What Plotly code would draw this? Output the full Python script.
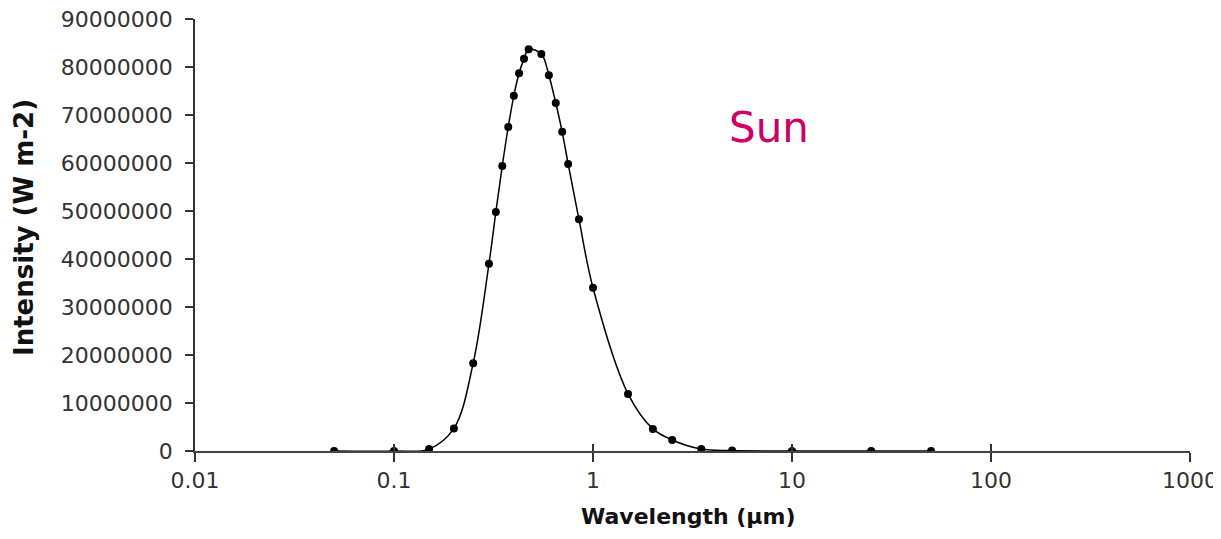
import plotly.graph_objects as go

# Wavelength (µm) and intensity (W m-2)
wavelength = [0.05, 0.1, 0.15, 0.2, 0.25, 0.3, 0.325, 0.35, 0.375, 0.4, 0.425,
              0.45, 0.475, 0.55, 0.6, 0.65, 0.7, 0.75, 0.85, 1.0, 1.5, 2.0,
              2.5, 3.5, 5.0, 10.0, 25.0, 50.0]
intensity = [0, 0, 400000, 4700000, 18300000, 39000000, 49800000, 59400000,
             67500000, 74000000, 78700000, 81700000, 83700000, 82700000,
             78300000, 72500000, 66500000, 59800000, 48300000, 34000000,
             11900000, 4600000, 2300000, 400000, 100000, 0, 0, 0]

x_tick_vals = [0.01, 0.1, 1, 10, 100, 1000]
x_tick_text = ["0.01", "0.1", "1", "10", "100", "1000"]
y_tick_vals = [0, 10000000, 20000000, 30000000, 40000000, 50000000,
               60000000, 70000000, 80000000, 90000000]
y_tick_text = [str(v) for v in y_tick_vals]

# page has an 8px body margin; plot area in page pixels: x 195..1190, y 19..451
OFF = 8
PL, PR, PT, PB = 195, 1190, 19, 451
W, H = 1221 - OFF, 539 - 2 * OFF


def px_to_paper(px, py):
    return (px - PL) / (PR - PL), (PB - py) / (PB - PT)


fig = go.Figure()
fig.add_trace(go.Scatter(
    x=wavelength, y=intensity, mode="lines+markers",
    line=dict(color="black", width=1.5, shape="spline", smoothing=1.0),
    marker=dict(color="black", size=8),
    showlegend=False,
))
fig.add_trace(go.Scatter(x=[0.01], y=[0], xaxis="x2", mode="markers",
                         marker=dict(opacity=0), showlegend=False,
                         hoverinfo="skip"))

tick_font = dict(family="DejaVu Sans", size=22, color="#333333")

sx, sy = px_to_paper(769, 127)
wx, wy = px_to_paper(688, 517)
ix, iy = px_to_paper(24, 228)

fig.update_layout(
    width=W, height=H,
    margin=dict(l=PL - OFF, r=W + OFF - PR, t=PT - OFF, b=H + OFF - PB),
    paper_bgcolor="white", plot_bgcolor="white",
    xaxis=dict(
        type="log", range=[-2, 3], automargin=False,
        tickvals=x_tick_vals, ticktext=x_tick_text,
        showgrid=False, zeroline=False,
        showline=True, linecolor="#444444", linewidth=2,
        ticks="outside", ticklen=9, tickcolor="#333333", tickwidth=1.5,
        tickfont=tick_font, ticklabeloverflow="allow",
    ),
    xaxis2=dict(
        type="log", range=[-2, 3], overlaying="x", anchor="y", side="bottom",
        tickvals=x_tick_vals, showticklabels=False,
        showgrid=False, zeroline=False, showline=False,
        ticks="inside", ticklen=7, tickcolor="#333333", tickwidth=1.5,
        automargin=False,
    ),
    yaxis=dict(
        range=[0, 90000000], automargin=False,
        tickvals=y_tick_vals, ticktext=y_tick_text,
        showgrid=False, zeroline=False,
        showline=True, linecolor="#333333", linewidth=1.5,
        ticks="outside", ticklen=8, tickcolor="#333333", tickwidth=1.5,
        tickfont=tick_font, ticklabelstandoff=8, ticklabeloverflow="allow",
    ),
    annotations=[
        dict(text="Sun", x=sx, y=sy, xref="paper", yref="paper",
             xanchor="center", yanchor="middle", showarrow=False,
             font=dict(family="DejaVu Sans", size=42, color="#CC0066")),
        dict(text="<b>Wavelength (μm)</b>", x=wx, y=wy,
             xref="paper", yref="paper", showarrow=False,
             xanchor="center", yanchor="middle",
             font=dict(family="DejaVu Sans", size=22, color="#111111")),
        dict(text="<b>Intensity (W m-2)</b>", x=ix, y=iy,
             xref="paper", yref="paper", showarrow=False, textangle=-90,
             xanchor="center", yanchor="middle",
             font=dict(family="DejaVu Sans", size=26, color="#111111")),
    ],
)

fig.write_html("out.html")
